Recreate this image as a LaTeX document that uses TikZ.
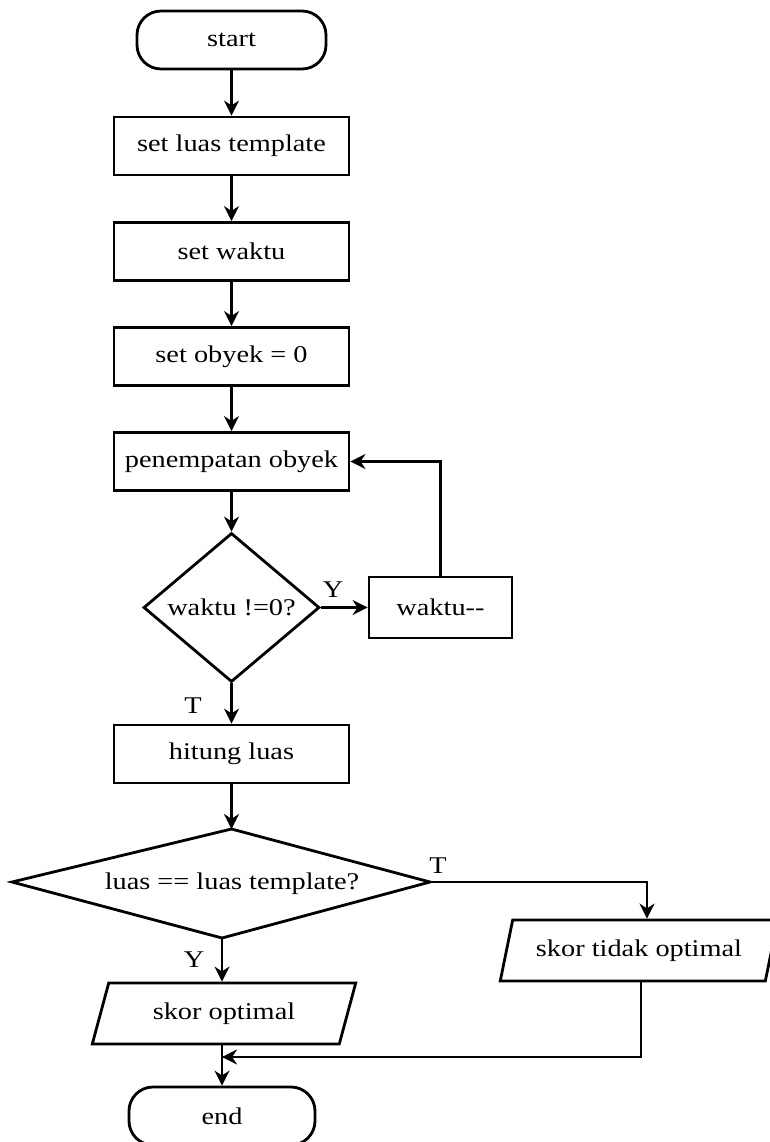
\documentclass[tikz,border=0pt]{standalone}
\usepackage{fontspec}
\setmainfont{Liberation Serif}[FakeStretch=1.18]
\usetikzlibrary{shapes.geometric,arrows.meta}
\begin{document}
\begin{tikzpicture}[x=1pt,y=-1pt,line width=2.8pt,
  >={Stealth[length=15pt,width=15pt]},
  txt/.style={font=\fontsize{24}{28}\selectfont},
  box/.style={txt,draw,rectangle,minimum width=235pt,minimum height=58pt,inner sep=0pt},
  term/.style={txt,draw,rectangle,rounded corners=24pt,minimum width=189pt,minimum height=58pt,inner sep=0pt},
  dia/.style={txt,draw,diamond,inner sep=0pt},
  para/.style={txt,draw,trapezium,trapezium left angle=65,trapezium right angle=115,trapezium stretches=true,inner sep=0pt},
  lbl/.style={txt,inner sep=0pt}]
\useasboundingbox (0,0) rectangle (769,1142);
\node[term] (start) at (231.5,40) {start};
\node[box] (s1) at (231.5,146) {set luas template};
\node[box] (s2) at (231.5,251.5) {set waktu};
\node[box] (s3) at (231.5,356.5) {set obyek = 0};
\node[box] (s4) at (231.5,461.5) {penempatan obyek};
\node[dia,minimum width=176pt,minimum height=149pt] (d1) at (231.5,607.5) {waktu !=0?};
\node[box,minimum width=143pt,minimum height=61pt] (w) at (440.5,607.5) {waktu{-}{-}};
\node[box] (hl) at (231.5,754) {hitung luas};
\coordinate (d2t) at (231.5,829);
\coordinate (d2r) at (430,882);
\coordinate (d2b) at (222,938);
\coordinate (d2l) at (12,882);
\draw (d2t) -- (d2r) -- (d2b) -- (d2l) -- cycle;
\node[lbl] (d2) at (232,884) {luas == luas template?};
\node[para,minimum width=264pt,minimum height=61pt] (p1) at (224,1013.5) {skor optimal};
\node[para,minimum width=278pt,minimum height=61pt] (p2) at (639,950.5) {skor tidak optimal};
\node[term,minimum width=186pt] (end) at (222,1116) {end};
\coordinate (j) at (222,1057);
\draw[->] (start) -- (s1);
\draw[->] (s1) -- (s2);
\draw[->] (s2) -- (s3);
\draw[->] (s3) -- (s4);
\draw[->] (s4) -- (d1);
\draw[->] (d1.east) -- (w.west);
\draw[->] (w.north) |- (s4.east);
\draw[->] (d1.south) -- (hl.north);
\draw[->] (hl.south) -- (d2t);
\draw[->] (d2r) -| ([xshift=8pt]p2.north);
\draw[->] (d2b) -- (p1.north -| d2b);
\draw ([xshift=2pt]p2.south) |- (j);
\draw[->] ([xshift=30pt]j) -- (j);
\draw[->] (p1.south -| end) -- (end.north);
\node[lbl] (ly1) at (333,590) {Y};
\node[lbl] (lt1) at (193,706) {T};
\node[lbl] (lt2) at (438,866) {T};
\node[lbl] (ly2) at (194,960) {Y};
\end{tikzpicture}
\end{document}
